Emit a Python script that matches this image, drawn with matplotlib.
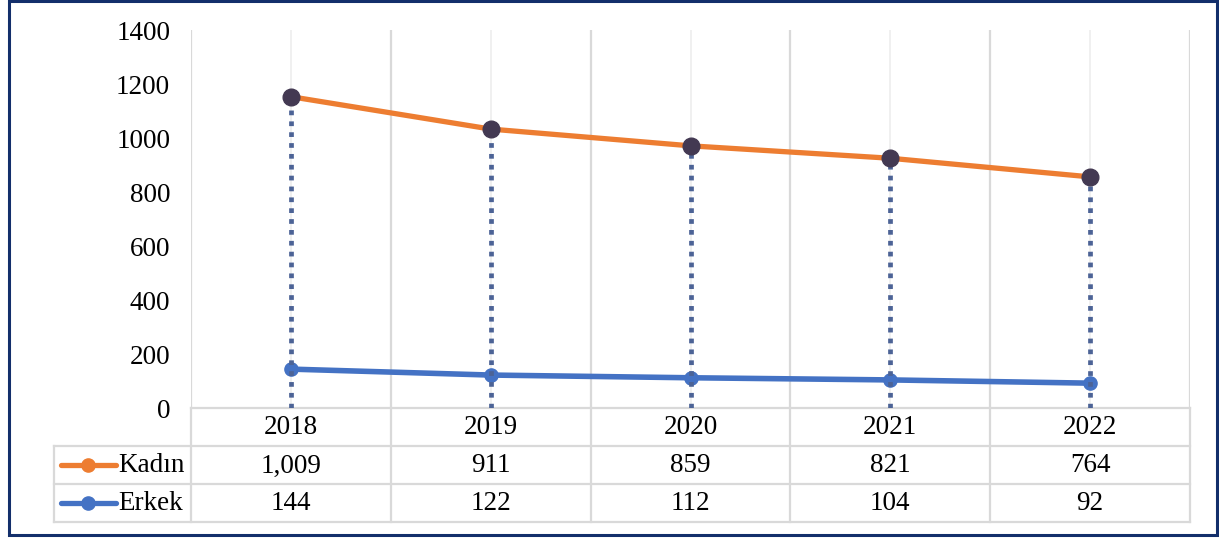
import matplotlib.pyplot as plt
import matplotlib.patches as patches
import numpy as np

years = ["2018", "2019", "2020", "2021", "2022"]
kadin = [1009, 911, 859, 821, 764]
erkek = [144, 122, 112, 104, 92]
y_ticks = [0, 200, 400, 600, 800, 1000, 1200, 1400]

plt.rcParams['font.family'] = ['Liberation Serif', 'DejaVu Serif']
fs = 19.5
orange = "#ED7D31"
blue = "#4472C4"
grid_c = "#d9d9d9"
W, H = 1219, 538

fig = plt.figure(figsize=(W / 100, H / 100), dpi=100)
ax = fig.add_axes([191 / W, (H - 408) / H, 999 / W, 378 / H])

x = np.arange(len(years))
erkek_arr = np.array(erkek)
stacked = erkek_arr + np.array(kadin)   # stacked line chart

ax.set_xlim(-0.5, len(years) - 0.5)
ax.set_ylim(0, 1400)

# vertical gridlines: category boundaries and faint center lines
for b in np.arange(-0.5, len(years), 1.0):
    ax.axvline(b, color=grid_c, lw=1.6, zorder=0)
for c in x:
    ax.axvline(c, color="#eeeeee", lw=1.2, zorder=0)

ax.plot(x, erkek_arr, color=blue, lw=4.0, marker="o", ms=9.5,
        markerfacecolor=blue, markeredgecolor=blue, zorder=3)
ax.plot(x, stacked, color=orange, lw=3.8, zorder=3)
# drop lines
for xi, yi in zip(x, stacked):
    ax.plot([xi, xi], [0, yi], color="#4C6396", lw=3.4,
            linestyle=(0, (1.0, 1.3)), dash_capstyle="butt", zorder=4)
ax.plot(x, stacked, linestyle="none", marker="o", ms=12,
        markerfacecolor="#433952", markeredgecolor="#433952", zorder=5)

for s in ax.spines.values():
    s.set_visible(False)
ax.set_xticks([])
ax.set_yticks(y_ticks)
ax.set_yticklabels([str(v) for v in y_ticks], fontsize=fs)
ax.tick_params(axis="y", length=0, pad=15)

# data table below the plot
tr = ax.get_xaxis_transform()
def yf(py):
    return (408 - py) / 378

x_left = (54 - 191) / 199.8 - 0.5
x_right = len(years) - 0.5
rows = [408, 446, 484, 522]
ax.plot([-0.5, x_right], [yf(408)] * 2, color=grid_c, lw=1.6, transform=tr, clip_on=False)
for r in rows[1:]:
    ax.plot([x_left, x_right], [yf(r)] * 2, color=grid_c, lw=1.6, transform=tr, clip_on=False)
for b in np.arange(-0.5, len(years), 1.0):
    ax.plot([b, b], [yf(408), yf(522)], color=grid_c, lw=1.6, transform=tr, clip_on=False)
ax.plot([x_left, x_left], [yf(446), yf(522)], color=grid_c, lw=1.6, transform=tr, clip_on=False)

for xi, yr in zip(x, years):
    ax.text(xi, yf(428), yr, ha="center", va="center", fontsize=fs, transform=tr)
for xi, k, e in zip(x, kadin, erkek):
    ax.text(xi, yf(466), f"{k:,}", ha="center", va="center", fontsize=fs, transform=tr)
    ax.text(xi, yf(504), f"{e:,}", ha="center", va="center", fontsize=fs, transform=tr)

# legend keys inside table
kx0 = (61 - 191) / 199.8 - 0.5
kx1 = (116 - 191) / 199.8 - 0.5
kxm = (88 - 191) / 199.8 - 0.5
tx = (118 - 191) / 199.8 - 0.5
for py, col, name in [(465, orange, "Kadın"), (503, blue, "Erkek")]:
    ax.plot([kx0, kx1], [yf(py)] * 2, color=col, lw=3.8, transform=tr,
            clip_on=False, solid_capstyle="round")
    ax.plot([kxm], [yf(py)], marker="o", ms=9.5, color=col, transform=tr, clip_on=False)
    ax.text(tx, yf(py + 1), name, ha="left", va="center",
            fontsize=fs, transform=tr)

# outer border
fig.patches.append(patches.Rectangle((8.5 / W, 3 / H), 1208 / W, 534 / H,
                                     transform=fig.transFigure, fill=False,
                                     edgecolor="#132F6B", lw=2.2))

fig.savefig("out.png", dpi=100)
